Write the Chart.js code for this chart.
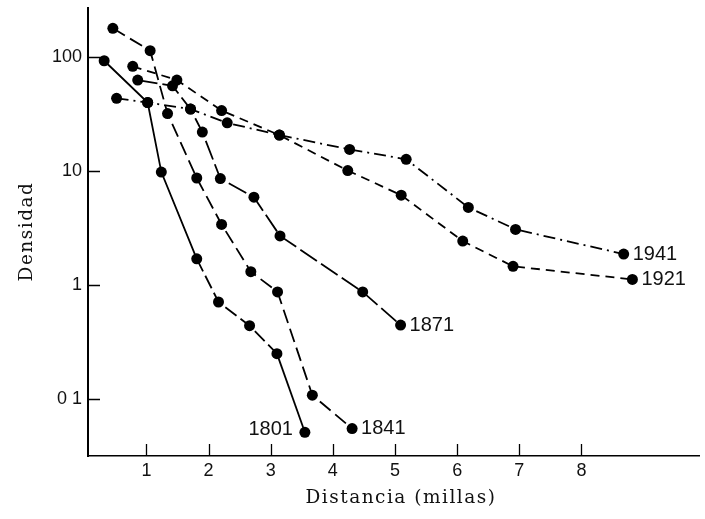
<!DOCTYPE html>
<html>
<head>
<meta charset="utf-8">
<script src="https://cdn.jsdelivr.net/npm/chart.js@4/dist/chart.umd.min.js"></script>
<style>
html,body{margin:0;padding:0;background:#fff;}
#wrap{width:705px;height:519px;}
</style>
</head>
<body>
<div id="wrap"><canvas id="c" width="705" height="519"></canvas></div>
<script>
// ---- data ----
const years = ['1801', '1841', '1871', '1921', '1941'];
const dist1801 = [0.32, 1.02, 1.24, 1.81, 2.16, 2.66, 3.10, 3.55];
const dens1801 = [93, 40, 9.8, 1.7, 0.71, 0.44, 0.25, 0.051];
const dist1841 = [0.46, 1.06, 1.34, 1.81, 2.21, 2.68, 3.11, 3.67, 4.31];
const dens1841 = [179, 114, 32, 8.7, 3.4, 1.31, 0.87, 0.108, 0.055];
const dist1871 = [0.86, 1.42, 1.71, 1.90, 2.19, 2.73, 3.15, 4.48, 5.09];
const dens1871 = [63, 56, 35, 22, 8.6, 5.9, 2.7, 0.87, 0.445];
const dist1921 = [0.78, 1.49, 2.21, 3.14, 4.24, 5.10, 6.09, 6.90, 8.82];
const dens1921 = [83, 63, 34, 20.7, 10.1, 6.15, 2.43, 1.46, 1.12];
const dist1941 = [0.52, 1.02, 1.71, 2.30, 3.14, 4.27, 5.18, 6.18, 6.94, 8.68];
const dens1941 = [43.5, 40, 35, 26.5, 20.7, 15.5, 12.7, 4.8, 3.08, 1.87];
const xTickValues = [1, 2, 3, 4, 5, 6, 7, 8];
const xTickLabels = ['1', '2', '3', '4', '5', '6', '7', '8'];
const yTickValues = [0.1, 1, 10, 100];
const yTickLabels = ['0 1', '1', '10', '100'];
const xTitle = 'Distancia (millas)';
const yTitle = 'Densidad';

const toPts = (xs, ys) => xs.map((x, i) => ({x: x, y: ys[i]}));
const seriesX = [dist1801, dist1841, dist1871, dist1921, dist1941];
const seriesY = [dens1801, dens1841, dens1871, dens1921, dens1941];
const dashes = [[], [14, 6], [20, 5], [9, 6], [12, 5, 2, 5]];
const labelSide = ['left', 'right', 'right', 'right', 'right'];

const datasets = years.map((yr, k) => {
  const ds = {
    label: yr,
    data: toPts(seriesX[k], seriesY[k]),
    borderColor: '#000',
    backgroundColor: '#000',
    borderWidth: 1.8,
    borderDash: dashes[k],
    pointRadius: 5.5,
    pointBorderWidth: 0,
    pointBackgroundColor: '#000',
    tension: 0,
    fill: false
  };
  if (k === 0) {
    ds.segment = {
      borderDash: ctx => (ctx.p0DataIndex >= 3 && ctx.p0DataIndex <= 5) ? [14, 5] : []
    };
  }
  return ds;
});

const decorPlugin = {
  id: 'decor',
  afterDraw(chart) {
    const ctx = chart.ctx;
    const xs = chart.scales.x, ys = chart.scales.y;
    const area = chart.chartArea;
    ctx.save();
    // inward tick marks
    ctx.strokeStyle = '#000';
    ctx.lineWidth = 1.3;
    ctx.beginPath();
    xTickValues.forEach(v => {
      const px = Math.round(xs.getPixelForValue(v)) + 0.5;
      ctx.moveTo(px, area.bottom);
      ctx.lineTo(px, area.bottom - 12);
    });
    yTickValues.forEach(v => {
      const py = Math.round(ys.getPixelForValue(v)) + 0.5;
      ctx.moveTo(area.left, py);
      ctx.lineTo(area.left + 12, py);
    });
    ctx.stroke();
    // series end labels
    ctx.fillStyle = '#111';
    ctx.font = '20px "Liberation Sans", Arial, sans-serif';
    ctx.textBaseline = 'middle';
    chart.data.datasets.forEach((ds, k) => {
      const meta = chart.getDatasetMeta(k);
      const pt = meta.data[meta.data.length - 1];
      if (labelSide[k] === 'left') {
        ctx.textAlign = 'right';
        ctx.fillText(ds.label, pt.x - 12, pt.y - 3);
      } else {
        ctx.textAlign = 'left';
        ctx.fillText(ds.label, pt.x + 9, pt.y);
      }
    });
    // axis titles
    ctx.fillStyle = '#111';
    ctx.font = '18.5px "DejaVu Serif", serif';
    try { ctx.letterSpacing = '1.5px'; } catch (e) {}
    ctx.textAlign = 'center';
    ctx.textBaseline = 'alphabetic';
    ctx.fillText(xTitle, 401, 503);
    ctx.translate(31.5, 231.5);
    ctx.rotate(-Math.PI / 2);
    ctx.fillText(yTitle, 0, 0);
    ctx.restore();
  }
};

new Chart(document.getElementById('c'), {
  type: 'line',
  data: {datasets: datasets},
  options: {
    responsive: false,
    devicePixelRatio: 1,
    animation: false,
    layout: {padding: {top: 8, right: 0, left: 0, bottom: 0}},
    plugins: {legend: {display: false}, tooltip: {enabled: false}, title: {display: false}},
    scales: {
      x: {
        type: 'linear',
        min: 0.06,
        max: 9.9,
        grid: {display: false, drawTicks: false},
        border: {display: true, color: '#000', width: 1.6},
        afterBuildTicks: s => { s.ticks = xTickValues.map(v => ({value: v})); },
        afterFit: s => { s.height = 63; s.paddingLeft = 0; s.paddingRight = 0; },
        ticks: {
          padding: 4,
          color: '#111',
          font: {family: '"Liberation Sans", Arial, sans-serif', size: 18},
          maxRotation: 0,
          autoSkip: false,
          callback: (v) => { const i = xTickValues.indexOf(v); return i >= 0 ? xTickLabels[i] : ''; }
        }
      },
      y: {
        type: 'logarithmic',
        min: 0.0316,
        max: 270,
        grid: {display: false, drawTicks: false},
        border: {display: true, color: '#000', width: 2},
        afterBuildTicks: s => { s.ticks = yTickValues.map(v => ({value: v})); },
        afterFit: s => { s.width = 88; s.paddingTop = 0; s.paddingBottom = 0; },
        ticks: {
          padding: 6,
          color: '#111',
          font: {family: '"Liberation Sans", Arial, sans-serif', size: 18},
          autoSkip: false,
          callback: (v) => { const i = yTickValues.indexOf(v); return i >= 0 ? yTickLabels[i] : ''; }
        }
      }
    }
  },
  plugins: [decorPlugin]
});
</script>
</body>
</html>
